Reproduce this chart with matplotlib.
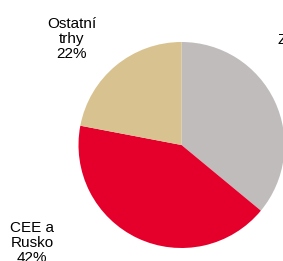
import matplotlib.pyplot as plt

labels = ["Západní\nEvropa\n36%", "CEE a\nRusko\n42%", "Ostatní\ntrhy\n22%"]
shares = [36, 42, 22]
colors = ["#C0BCBB", "#E4002B", "#D8C290"]

plt.rcParams['font.family'] = ['Liberation Sans', 'DejaVu Sans']

fig = plt.figure(figsize=(2.83, 2.61), dpi=100)
ax = fig.add_axes([0, 0, 1, 1])

ax.pie(shares, colors=colors, startangle=90, counterclock=False,
       center=(181.5, 116), radius=103, frame=True,
       wedgeprops=dict(linewidth=0))
ax.set_xlim(0, 283)
ax.set_ylim(0, 261)
ax.set_aspect("equal")
ax.axis("off")

# label positions (pixel coords, y from bottom)
pos = [(306, 206), (32, 18), (71.5, 222)]
for (x, y), lab in zip(pos, labels):
    ax.text(x, y, lab, ha="center", va="center", fontsize=11,
            linespacing=1.1, color="black")

fig.savefig("out.png", dpi=100)
